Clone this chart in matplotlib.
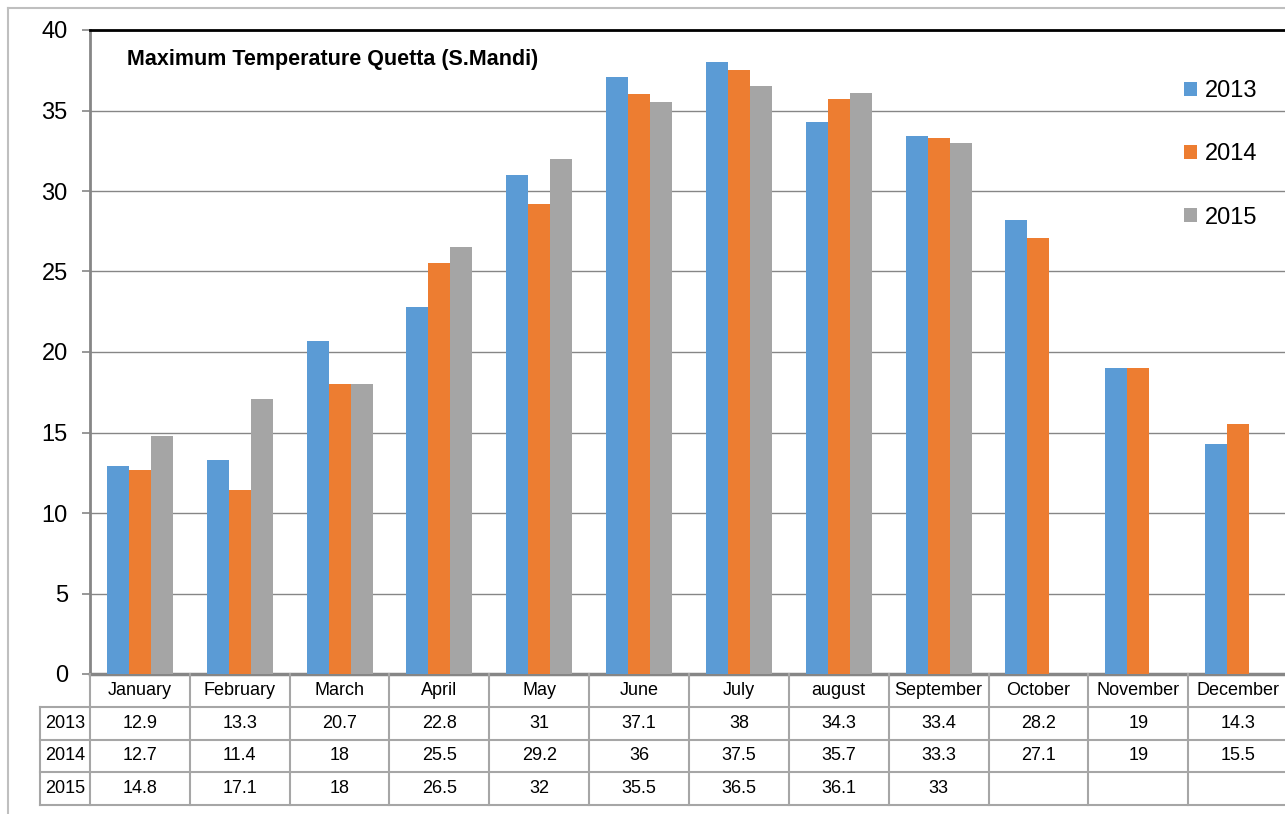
import numpy as np
import matplotlib.pyplot as plt
from matplotlib.lines import Line2D

# --- datos ---
months = ['January', 'February', 'March', 'April', 'May', 'June', 'July',
          'august', 'September', 'October', 'November', 'December']
years = ['2013', '2014', '2015']
t2013 = [12.9, 13.3, 20.7, 22.8, 31, 37.1, 38, 34.3, 33.4, 28.2, 19, 14.3]
t2014 = [12.7, 11.4, 18, 25.5, 29.2, 36, 37.5, 35.7, 33.3, 27.1, 19, 15.5]
t2015 = [14.8, 17.1, 18, 26.5, 32, 35.5, 36.5, 36.1, 33, None, None, None]
series = [t2013, t2014, t2015]
colors = ['#5B9BD5', '#ED7D31', '#A5A5A5']

plt.rcParams['font.family'] = ['Liberation Sans', 'DejaVu Sans']

W, H = 1285, 814
fig = plt.figure(figsize=(W / 100, H / 100), dpi=100)

# px -> figure fraction
def fx(px):
    return px / W

def fy(py):
    return 1 - py / H

x0, x1 = 90, 1288
y_top, y_bot = 30, 674
ax = fig.add_axes([fx(x0), fy(y_bot), fx(x1) - fx(x0), fy(y_top) - fy(y_bot)])

x = np.arange(len(months))
bw = 0.22
for i, (vals, c, yr) in enumerate(zip(series, colors, years)):
    v = np.array([np.nan if a is None else a for a in vals], dtype=float)
    ax.bar(x + (i - 1) * bw, v, width=bw, color=c, label=yr, zorder=3)

ax.set_xlim(-0.5, 11.5)
ax.set_ylim(0, 40)
ax.set_yticks(range(0, 41, 5))
ax.tick_params(axis='y', labelsize=17, length=6, width=1.2, color='#868686', pad=10)
ax.set_xticks([])
ax.grid(axis='y', color='#868686', linewidth=1.0, zorder=0)
ax.spines['right'].set_visible(False)
ax.spines['top'].set_color('black')
ax.spines['top'].set_linewidth(2)
ax.spines['left'].set_color('#868686')
ax.spines['left'].set_linewidth(2)
ax.spines['bottom'].set_color('#868686')
ax.spines['bottom'].set_linewidth(2.5)

ax.text(fx(127), fy(60), 'Maximum Temperature Quetta (S.Mandi)', transform=fig.transFigure,
        fontsize=15.5, fontweight='bold', va='center', ha='left')

leg = ax.legend(loc='upper left', bbox_to_anchor=(fx(1184), fy(80)),
                bbox_transform=fig.transFigure, frameon=False, fontsize=17,
                handlelength=0.55, handleheight=0.55, handletextpad=0.35,
                labelspacing=1.75, borderaxespad=0, borderpad=0)

# --- tabla de datos ---
tc = '#A6A6A6'
row_h = (805 - 674) / 4
slot = (x1 - x0) / 12
col_left = 40
rows_y = [674 + k * row_h for k in range(5)]

def hline(py, xa, xb):
    fig.add_artist(Line2D([fx(xa), fx(xb)], [fy(py), fy(py)], color=tc, lw=1.5))

def vline(px, ya, yb):
    fig.add_artist(Line2D([fx(px), fx(px)], [fy(ya), fy(yb)], color=tc, lw=1.5))

for k in range(1, 5):
    hline(rows_y[k], col_left, W)
vline(col_left, rows_y[1], rows_y[4])
for j in range(12):
    vline(x0 + j * slot, rows_y[0], rows_y[4])

fs_t = 13
for j, m in enumerate(months):
    cx = x0 + (j + 0.5) * slot
    fig.text(fx(cx), fy((rows_y[0] + rows_y[1]) / 2), m, ha='center', va='center', fontsize=fs_t)
    for r, vals in enumerate(series):
        if vals[j] is not None:
            fig.text(fx(cx), fy((rows_y[r + 1] + rows_y[r + 2]) / 2), f'{vals[j]:g}',
                     ha='center', va='center', fontsize=fs_t)
for r, yr in enumerate(years):
    fig.text(fx(65), fy((rows_y[r + 1] + rows_y[r + 2]) / 2), yr,
             ha='center', va='center', fontsize=fs_t)

# borde exterior
fig.add_artist(Line2D([fx(8), fx(W)], [fy(8), fy(8)], color='#BFBFBF', lw=1.5))
fig.add_artist(Line2D([fx(8), fx(8)], [fy(8), fy(H)], color='#BFBFBF', lw=1.5))

fig.savefig('out.png', dpi=100)
